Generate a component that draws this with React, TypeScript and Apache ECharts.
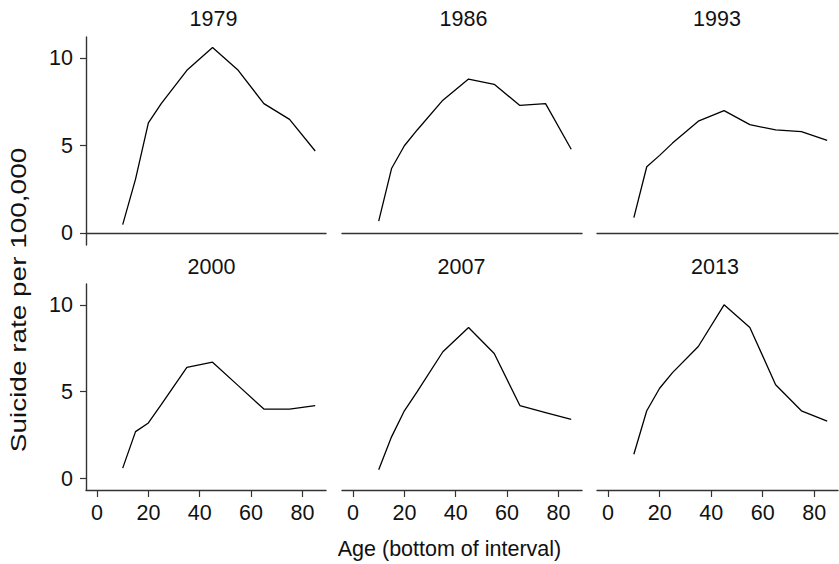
import React, { useEffect, useRef } from "react";
import * as echarts from "echarts";

const ages = [10, 15, 20, 25, 35, 45, 55, 65, 75, 85];
const years = ["1979", "1986", "1993", "2000", "2007", "2013"];
const r1979 = [0.5, 3.1, 6.3, 7.4, 9.3, 10.6, 9.3, 7.4, 6.5, 4.7];
const r1986 = [0.7, 3.7, 5.0, 5.9, 7.6, 8.8, 8.5, 7.3, 7.4, 4.8];
const r1993 = [0.9, 3.8, 4.45, 5.15, 6.4, 7.0, 6.2, 5.9, 5.8, 5.3];
const r2000 = [0.6, 2.7, 3.2, 4.25, 6.4, 6.7, 5.35, 4.0, 4.0, 4.2];
const r2007 = [0.5, 2.4, 3.9, 5.0, 7.3, 8.7, 7.2, 4.2, 3.8, 3.4];
const r2013 = [1.4, 3.9, 5.2, 6.1, 7.6, 10.0, 8.7, 5.4, 3.9, 3.3];
const rates = [r1979, r1986, r1993, r2000, r2007, r2013];
const xTicks = [0, 20, 40, 60, 80];
const yTicks = [0, 5, 10];
const xTitle = "Age (bottom of interval)";
const yTitle = "Suicide rate per 100,000";

const FONT = "Liberation Sans, Arial, Helvetica, sans-serif";
const FS = 21.5;
const AX = "#333333";

export default function App() {
  const ref = useRef<HTMLDivElement>(null);
  useEffect(() => {
    if (!ref.current) return;
    const chart = echarts.init(ref.current, null, { renderer: "svg" });
    const colLeft = [86, 342, 597];
    const colWidth = [240, 240, 241];
    const rowTop = [37, 284];
    const rowHeight = [208, 206];
    const titleX = [213.5, 463.5, 717];
    const titleY = [18.5, 266.5];

    const grids: any[] = [];
    const xAxes: any[] = [];
    const yAxes: any[] = [];
    const series: any[] = [];
    const graphics: any[] = [];

    for (let i = 0; i < 6; i++) {
      const row = Math.floor(i / 3);
      const col = i % 3;
      grids.push({
        left: colLeft[col],
        top: rowTop[row],
        width: colWidth[col],
        height: rowHeight[row],
        containLabel: false,
      });
      const bottomRow = row === 1;
      xAxes.push({
        type: "value",
        gridIndex: i,
        min: -4.3,
        max: 89.2,
        position: "bottom",
        splitLine: { show: false },
        axisLine: {
          show: true,
          onZero: !bottomRow,
          lineStyle: { color: AX, width: 1.4 },
        },
        axisTick: {
          show: bottomRow,
          customValues: xTicks,
          length: 7,
          lineStyle: { color: AX, width: 1.2 },
        },
        axisLabel: {
          show: bottomRow,
          customValues: xTicks,
          margin: 12,
          fontSize: FS,
          fontFamily: FONT,
          color: "#111",
        },
      });
      const showY = col === 0;
      yAxes.push({
        type: "value",
        gridIndex: i,
        min: -0.66,
        max: 11.2,
        splitLine: { show: false },
        axisLine: { show: showY, onZero: false, lineStyle: { color: AX, width: 1.4 } },
        axisTick: {
          show: showY,
          customValues: yTicks,
          length: 6,
          lineStyle: { color: AX, width: 1.2 },
        },
        axisLabel: {
          show: showY,
          customValues: yTicks,
          margin: 13,
          fontSize: FS,
          fontFamily: FONT,
          color: "#111",
        },
      });
      series.push({
        type: "line",
        xAxisIndex: i,
        yAxisIndex: i,
        data: ages.map((a, k) => [a, rates[i][k]]),
        showSymbol: false,
        symbol: "none",
        lineStyle: { color: "#000", width: 1.3 },
        z: 3,
      });
      graphics.push({
        type: "text",
        x: titleX[col] - (row === 1 ? 2 : 0),
        y: titleY[row],
        style: {
          text: years[i],
          fontSize: FS,
          fontFamily: FONT,
          fill: "#111",
          textAlign: "center",
          textVerticalAlign: "middle",
        },
      });
    }

    graphics.push({
      type: "text",
      x: 449.5,
      y: 549,
      style: {
        text: xTitle,
        fontSize: FS,
        fontFamily: FONT,
        fill: "#111",
        textAlign: "center",
        textVerticalAlign: "middle",
      },
    });
    graphics.push({
      type: "text",
      x: 18,
      y: 300,
      rotation: Math.PI / 2,
      scaleX: 1.3,
      style: {
        text: yTitle,
        fontSize: FS,
        fontFamily: FONT,
        fill: "#111",
        textAlign: "center",
        textVerticalAlign: "middle",
      },
    });

    chart.setOption({
      animation: false,
      backgroundColor: "#ffffff",
      grid: grids,
      xAxis: xAxes,
      yAxis: yAxes,
      series,
      graphic: graphics,
    });
    return () => chart.dispose();
  }, []);
  return (
    <div
      ref={ref}
      style={{ position: "fixed", left: 0, top: 0, width: 839, height: 564 }}
    />
  );
}
